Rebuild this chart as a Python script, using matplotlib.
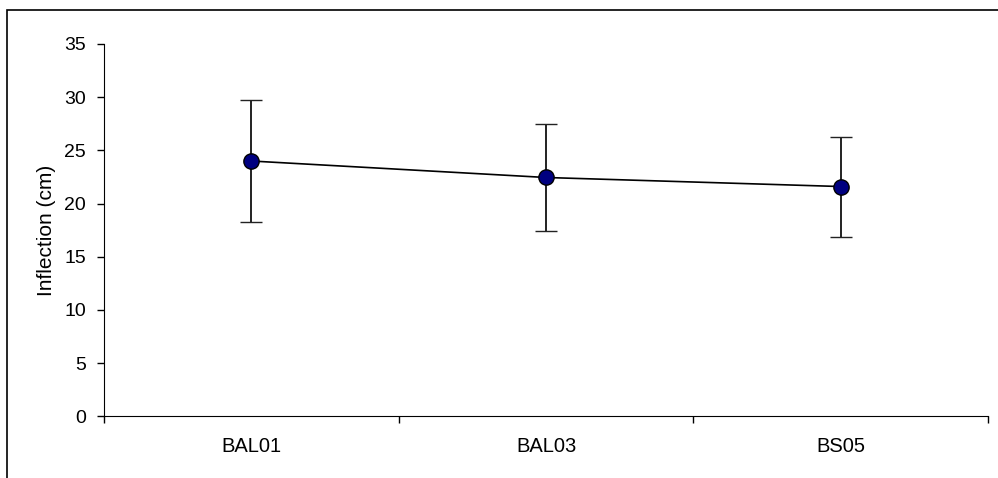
import matplotlib
matplotlib.use("Agg")
import matplotlib.pyplot as plt
from matplotlib.patches import Rectangle

plt.rcParams['font.family'] = ['Liberation Sans', 'DejaVu Sans']

sites = ["BAL01", "BAL03", "BS05"]
inflection = [24.0, 22.45, 21.6]
err = [5.7, 5.0, 4.7]

fig = plt.figure(figsize=(9.98, 4.78), dpi=100)
ax = fig.add_axes([0.1042, 0.129, 0.8858, 0.779])

x = list(range(len(sites)))
ax.errorbar(x, inflection, yerr=err, color="black", lw=1.2, elinewidth=1.4,
            ecolor="#222222", capsize=8, capthick=1.4, marker="o", markersize=11,
            markerfacecolor="#000080", markeredgecolor="black", markeredgewidth=1)

ax.set_xlim(-0.5, len(sites) - 0.5)
ax.set_ylim(0, 35)
ax.set_yticks(range(0, 36, 5))
ax.set_xticks([i - 0.5 for i in range(len(sites) + 1)])
ax.set_xticklabels([])
ax.set_xticks(x, minor=True)
ax.set_xticklabels(sites, minor=True)
ax.tick_params(axis="x", which="minor", length=0, pad=15, labelsize=14.5)
ax.tick_params(axis="x", which="major", length=5, width=1)
ax.tick_params(axis="y", length=5, width=1, labelsize=14, pad=8)
ax.spines["top"].set_visible(False)
ax.spines["right"].set_visible(False)
ax.set_ylabel("Inflection (cm)", fontsize=15, labelpad=6)

# outer chart border
fig.add_artist(Rectangle((7 / 998, -0.1), 1.2, 1.1 - 10 / 478, transform=fig.transFigure,
                         fill=False, edgecolor="black", lw=1.2))

fig.savefig("out.png", dpi=100)
